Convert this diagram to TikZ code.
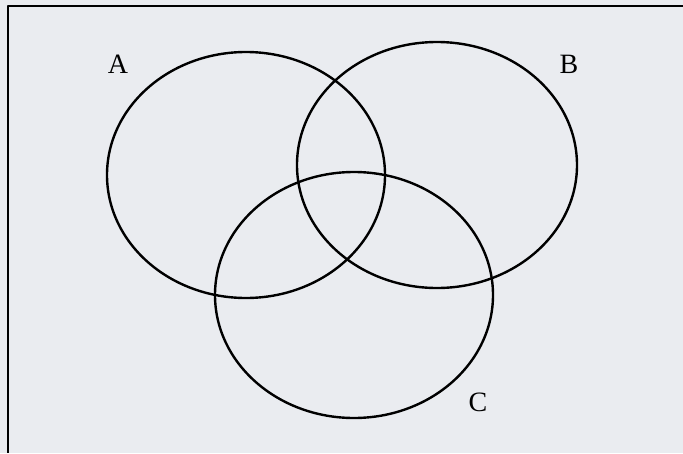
\documentclass[tikz,border=0pt]{standalone}
\usepackage{fontspec}
\setmainfont{Liberation Serif}
\usepackage{tikz}
\usetikzlibrary{positioning}
\definecolor{paper}{RGB}{234,236,240}
\tikzset{setline/.style={line width=2.4pt},
  setlabel/.style={font=\fontsize{28}{28}\selectfont,inner sep=0pt}}

\begin{document}
\begin{tikzpicture}[x=1pt,y=-1pt,line join=round]
% --- page and frame
\fill[paper] (0,0) rectangle (683,453);
\useasboundingbox (0,0) rectangle (683,453);
\draw[line width=2pt] (683,6) -- (8,6) -- (8,453);
% --- the three sets
\draw[setline] (246,175) ellipse [x radius=139,y radius=123];
\draw[setline] (437,165) ellipse [x radius=140,y radius=123];
\draw[setline] (354,295) ellipse [x radius=139,y radius=123];
\node[setlabel] (labA) at (118,64) {A};
\node[setlabel] (labB) at (569,64) {B};
\node[setlabel] (labC) at (478,402) {C};
\end{tikzpicture}
\end{document}
